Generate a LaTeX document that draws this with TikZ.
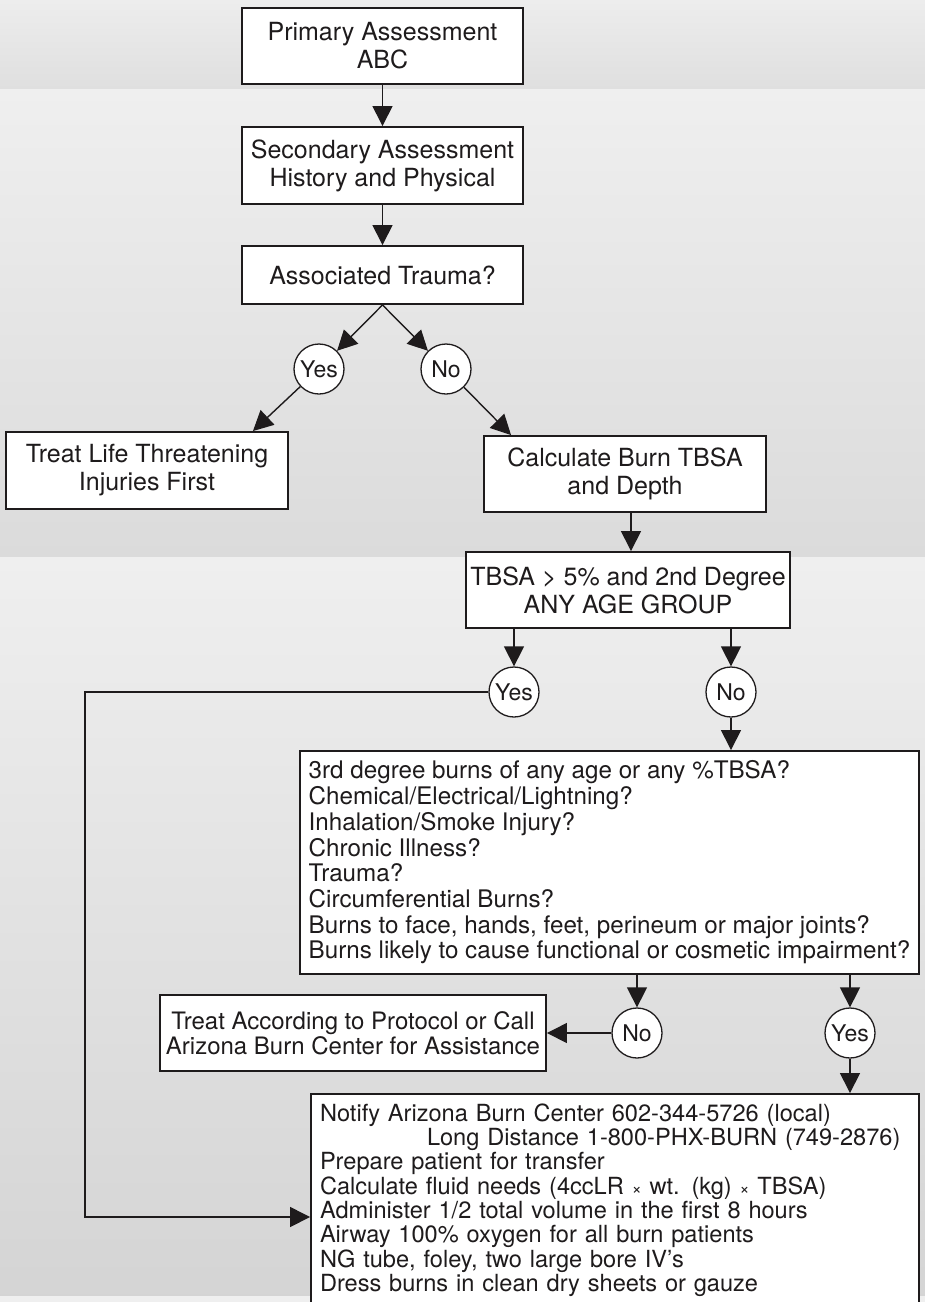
\documentclass[tikz,border=0pt]{standalone}
\usepackage{fontspec}
\setmainfont{TeX Gyre Heros}
\usetikzlibrary{arrows.meta}
\definecolor{cink}{RGB}{30,27,28}
\definecolor{cbgtop}{RGB}{239,239,239}
\definecolor{cbgbot}{RGB}{219,219,219}
\newcommand{\tms}{{\fontsize{17}{17}\selectfont ×}}
\tikzset{
  burnchart/.style={x=1pt,y=-1pt},
  chartbox/.style={draw=cink,line width=1.9pt,fill=white,text=cink,inner sep=4pt,align=center,font=\fontsize{25}{28}\selectfont},
  ans/.style={circle,draw=cink,line width=1.3pt,fill=white,text=cink,minimum size=50pt,inner sep=0pt,font=\fontsize{23}{24}\selectfont},
  arr/.style={draw=cink,line width=1.4pt,-{Triangle[length=20pt,width=20pt]}},
}

\begin{document}
\begin{tikzpicture}[burnchart]
    \useasboundingbox (0,0) rectangle (925,1302);
    \clip (0,0) rectangle (925,1302);
    \shade[top color=cbgtop!90!cbgbot,bottom color=cbgbot!80!cbgtop] (0,0) rectangle (925,89);
    \shade[top color=cbgtop,bottom color=cbgbot] (0,89) rectangle (925,557);
    \shade[top color=cbgtop,bottom color=cbgbot!97!black] (0,557) rectangle (925,1296);
    \fill[cbgtop] (0,1296) rectangle (925,1302);

    \node[chartbox,minimum width=281pt,minimum height=76pt] (pa) at (382.5,46) {Primary Assessment\\ABC};
    \node[chartbox,minimum width=281pt,minimum height=77pt] (sa) at (382.5,165.5) {Secondary Assessment\\History and Physical};
    \node[chartbox,minimum width=281pt,minimum height=58pt] (at) at (382.5,275) {Associated Trauma?};
    \node[ans] (y1) at (319,369) {Yes};
    \node[ans] (n1) at (446,369) {No};
    \node[chartbox,minimum width=282pt,minimum height=77pt] (tl) at (147,470.5) {Treat Life Threatening\\Injuries First};
    \node[chartbox,minimum width=282pt,minimum height=76pt] (cb) at (625,474) {Calculate Burn TBSA\\and Depth};
    \node[chartbox,minimum width=324pt,minimum height=76pt] (tb) at (628,590) {TBSA > 5\% and 2nd Degree\\ANY AGE GROUP};
    \node[ans] (y2) at (514,692) {Yes};
    \node[ans] (n2) at (731,692) {No};
    \node[chartbox,align=left,minimum width=619pt,minimum height=223pt,font=\fontsize{24.2}{25.7}\selectfont] (q) at (609.5,862.5)
      {3rd degree burns of any age or any \%TBSA?\\
       Chemical/Electrical/Lightning?\\
       Inhalation/Smoke Injury?\\
       Chronic Illness?\\
       Trauma?\\
       Circumferential Burns?\\
       Burns to face, hands, feet, perineum or major joints?\\
       Burns likely to cause functional or cosmetic impairment?};
    \node[ans] (n3) at (637,1033) {No};
    \node[ans] (y3) at (850,1033) {Yes};
    \node[chartbox,minimum width=386pt,minimum height=76pt,font=\fontsize{24}{24.5}\selectfont] (tp) at (353,1033)
      {Treat According to Protocol or Call\\Arizona Burn Center for Assistance};
    \node[chartbox,align=left,text width=590pt,inner xsep=9pt,minimum height=212pt,font=\fontsize{23.6}{24.3}\selectfont] (nt) at (615,1200)
      {Notify Arizona Burn Center 602-344-5726 (local)\\
       \hspace*{107pt}Long Distance 1-800-PHX-BURN (749-2876)\\
       Prepare patient for transfer\\
       Calculate fluid needs (4ccLR \tms{} wt. (kg) \tms{} TBSA)\\
       Administer 1/2 total volume in the first 8 hours\\
       Airway 100\% oxygen for all burn patients\\
       NG tube, foley, two large bore IV’s\\
       Dress burns in clean dry sheets or gauze};

    \draw[arr] (pa) -- (sa);
    \draw[arr] (sa) -- (at);
    \draw[arr] (at.south) -- (y1);
    \draw[arr] (at.south) -- (n1);
    \draw[arr] (y1) -- ([xshift=-36pt]tl.north east);
    \draw[arr] (n1) -- ([xshift=28pt]cb.north west);
    \draw[arr] ([xshift=6pt]cb.south) -- ([xshift=6pt]cb.south |- tb.north);
    \draw[arr] (tb.south -| y2) -- (y2);
    \draw[arr] (tb.south -| n2) -- (n2);
    \coordinate (lp) at (85,1217);
    \draw[arr] (y2.west) -| (lp) -- (lp -| nt.west);
    \draw[arr] (n2) -- (n2 |- q.north);
    \draw[arr] (q.south -| n3) -- (n3);
    \draw[arr] (q.south -| y3) -- (y3);
    \draw[arr] (n3) -- (tp);
    \draw[arr] (y3) -- (y3 |- nt.north);
\end{tikzpicture}
\end{document}
